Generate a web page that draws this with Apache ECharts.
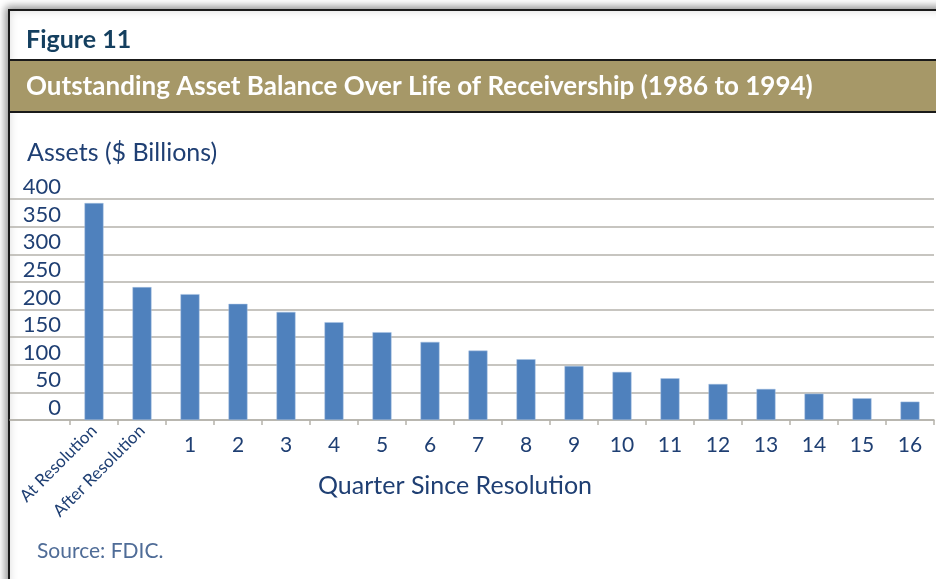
<!DOCTYPE html>
<html lang="en">
<head>
    <meta charset="UTF-8">
    <title>Figure 11</title>
    <script src="https://cdn.jsdelivr.net/npm/echarts@6/dist/echarts.min.js"></script>
    <style>
        html, body { margin: 0; padding: 0; background: #fff; }
        #fig1 { width: 936px; height: 579px; }
    </style>
</head>
<body>
    <div id="fig1"></div>
    <script>
        // categories along the x axis
        let quarters = ['At Resolution', 'After Resolution', '1', '2', '3', '4', '5', '6', '7',
            '8', '9', '10', '11', '12', '13', '14', '15', '16'];
        // outstanding assets, $ billions
        let assets = [392.7, 240.5, 227.8, 210.2, 195.7, 177.0, 158.9, 141.4, 125.6,
            110.0, 97.9, 87.0, 75.5, 65.2, 56.2, 47.7, 39.3, 33.2];
        let yTicks = [0, 50, 100, 150, 200, 250, 300, 350, 400];

        let navy = '#1f3f73';
        let font = 'Lato';

        let fig1 = echarts.init(document.getElementById('fig1'), null, {renderer: 'canvas'});

        let option = {
            animation: false,
            textStyle: { fontFamily: font },
            graphic: [
                { // outer frame with shadow
                    type: 'rect', z: -10,
                    shape: { x: 9, y: 10, width: 960, height: 620 },
                    style: {
                        fill: '#fff', stroke: '#1a1a1a', lineWidth: 2,
                        shadowBlur: 8, shadowColor: 'rgba(0,0,0,0.45)',
                        shadowOffsetX: -2, shadowOffsetY: -2
                    }
                },
                { // title band
                    type: 'rect', z: -9,
                    shape: { x: 9, y: 60, width: 960, height: 52 },
                    style: { fill: '#a69868', stroke: '#1a1a1a', lineWidth: 2 }
                }
            ],
            title: [
                {
                    text: 'Figure 11', left: 26, top: 27, padding: 0,
                    textStyle: { color: '#143f5f', fontSize: 25, fontWeight: 'bold', fontFamily: font }
                },
                {
                    text: 'Outstanding Asset Balance Over Life of Receivership (1986 to 1994)', left: 26, top: 74, padding: 0,
                    textStyle: { color: '#fff', fontSize: 26, fontWeight: 'bold', fontFamily: font }
                },
                {
                    text: 'Assets ($ Billions)', left: 27, top: 140, padding: 0,
                    textStyle: { color: navy, fontSize: 25, fontWeight: 'normal', fontFamily: font }
                },
                {
                    text: 'Quarter Since Resolution', left: 318, top: 473, padding: 0,
                    textStyle: { color: navy, fontSize: 25, fontWeight: 'normal', fontFamily: font }
                },
                {
                    text: 'Source: FDIC.', left: 37, top: 541, padding: 0,
                    textStyle: { color: '#4f6c97', fontSize: 21, fontWeight: 'normal', fontFamily: font }
                }
            ],
            grid: [
                // wide grid: only gridlines and baseline
                { left: 10, right: 2, top: 199, bottom: 159, containLabel: false },
                // bar grid
                { left: 70, right: 2, top: 199, bottom: 159, containLabel: false }
            ],
            xAxis: [
                {
                    gridIndex: 0, type: 'value', min: 0, max: 1,
                    axisLine: { show: true, onZero: false, lineStyle: { color: '#b5b2ab', width: 1.5 } },
                    axisTick: { show: false }, axisLabel: { show: false }, splitLine: { show: false }
                },
                {
                    gridIndex: 1, type: 'category', data: quarters,
                    axisLine: { show: false },
                    axisTick: { show: true, length: 5, lineStyle: { color: '#b5b2ab', width: 1.5 } },
                    axisLabel: {
                        interval: 0, rotate: 45, margin: 8,
                        color: navy, fontSize: 17, fontFamily: font,
                        formatter: function (v, i) { return i < 2 ? v : ''; }
                    }
                },
                {
                    gridIndex: 1, type: 'category', data: quarters, position: 'bottom',
                    axisLine: { show: false }, axisTick: { show: false },
                    axisLabel: {
                        interval: 0, margin: 15,
                        color: navy, fontSize: 21, fontFamily: font,
                        formatter: function (v, i) { return i < 2 ? '' : v; }
                    }
                }
            ],
            yAxis: [
                {
                    gridIndex: 0, type: 'value', min: 0, max: 400, interval: 50,
                    axisLine: { show: false }, axisTick: { show: false }, axisLabel: { show: false },
                    splitLine: { show: true, lineStyle: { color: '#b5b2ab', width: 1.5 } }
                },
                {
                    gridIndex: 1, type: 'value', min: 0, max: 400, interval: 50,
                    axisLine: { show: false }, axisTick: { show: false },
                    splitLine: { show: false },
                    axisLabel: {
                        margin: 9, color: navy, fontSize: 22, fontFamily: font,
                        verticalAlign: 'bottom', lineHeight: 24,
                        customValues: yTicks
                    }
                }
            ],
            series: [
                {
                    name: 'Assets', type: 'bar',
                    xAxisIndex: 1, yAxisIndex: 1,
                    data: assets,
                    barWidth: 19,
                    itemStyle: { color: '#4f81bd', borderColor: '#a9c2e2', borderWidth: 0.5 }
                }
            ]
        };

        fig1.setOption(option);
    </script>
</body>
</html>
